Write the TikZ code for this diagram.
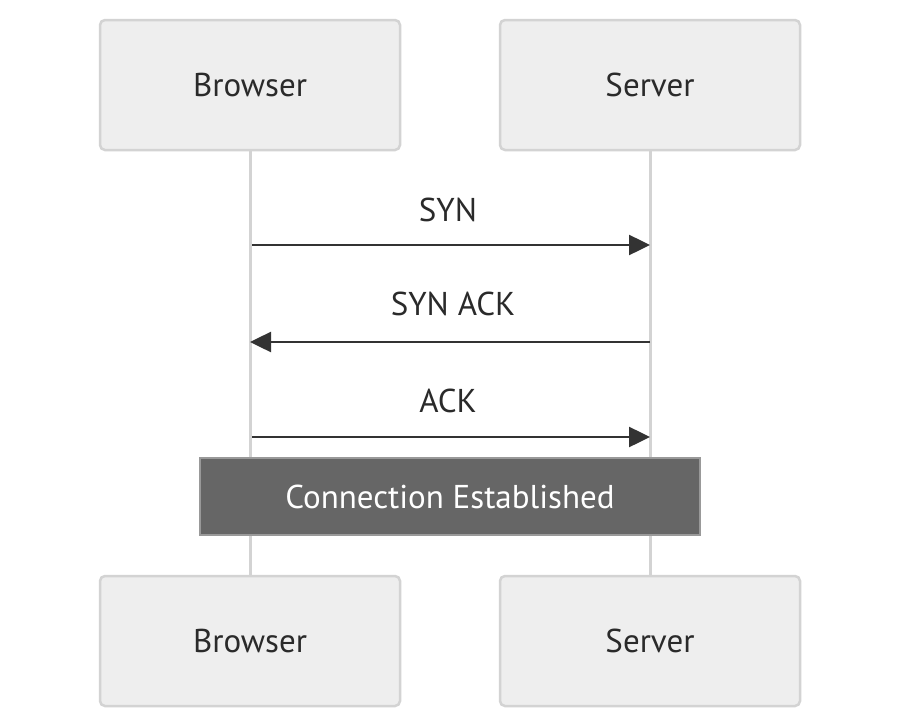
\documentclass[tikz,border=0pt]{standalone}
\usepackage{fontspec}
\setmainfont{PT Sans}
\usetikzlibrary{arrows.meta}
\definecolor{boxfill}{HTML}{EEEEEE}
\definecolor{boxline}{HTML}{D3D3D3}
\definecolor{lifeline}{HTML}{D3D3D3}
\definecolor{msgcol}{HTML}{333333}
\definecolor{txtcol}{HTML}{2A2A2A}
\definecolor{notefill}{HTML}{666666}
\definecolor{noteline}{HTML}{999999}
\begin{document}
\begin{tikzpicture}[x=1pt,y=-1pt,
  actor/.style={draw=boxline, fill=boxfill, line width=2.5pt, rounded corners=5pt,
    minimum width=300pt, minimum height=130pt, inner sep=0pt,
    font=\fontsize{33}{38}\selectfont, text=txtcol},
  msg/.style={draw=msgcol, line width=2.5pt, -{Triangle[length=21pt,width=20pt]}},
  lbl/.style={font=\fontsize{33}{38}\selectfont, text=txtcol, inner sep=0pt},
  life/.style={draw=lifeline, line width=3pt},
  notebox/.style={draw=noteline, fill=notefill, line width=2.5pt,
    minimum width=500pt, minimum height=77pt, inner sep=0pt,
    font=\fontsize{33}{38}\selectfont, text=white}]
\useasboundingbox (0,0) rectangle (900,728);
\fill[white] (0,0) rectangle (900,728);
% lifelines
\coordinate (bl1) at (250,150);
\coordinate (bl2) at (250,576);
\coordinate (sl1) at (650,150);
\coordinate (sl2) at (650,576);
\draw[life] (bl1) -- (bl2);
\draw[life] (sl1) -- (sl2);
% actors
\node[actor] (bt) at (250,85) {Browser};
\node[actor] (st) at (650,85) {Server};
\node[actor] (bb) at (250,641) {Browser};
\node[actor] (sb) at (650,641) {Server};
% messages
\coordinate (m1a) at (252,245);
\coordinate (m1b) at (650,245);
\coordinate (m2a) at (650,342);
\coordinate (m2b) at (250,342);
\coordinate (m3a) at (252,437);
\coordinate (m3b) at (650,437);
\draw[msg] (m1a) -- (m1b);
\draw[msg] (m2a) -- (m2b);
\draw[msg] (m3a) -- (m3b);
\node[lbl] (l1) at (448,210) {SYN};
\node[lbl] (l2) at (453,304) {SYN ACK};
\node[lbl] (l3) at (448,401) {ACK};
% note
\node[notebox] (note) at (450,496.5) {Connection Established};
\end{tikzpicture}
\end{document}
